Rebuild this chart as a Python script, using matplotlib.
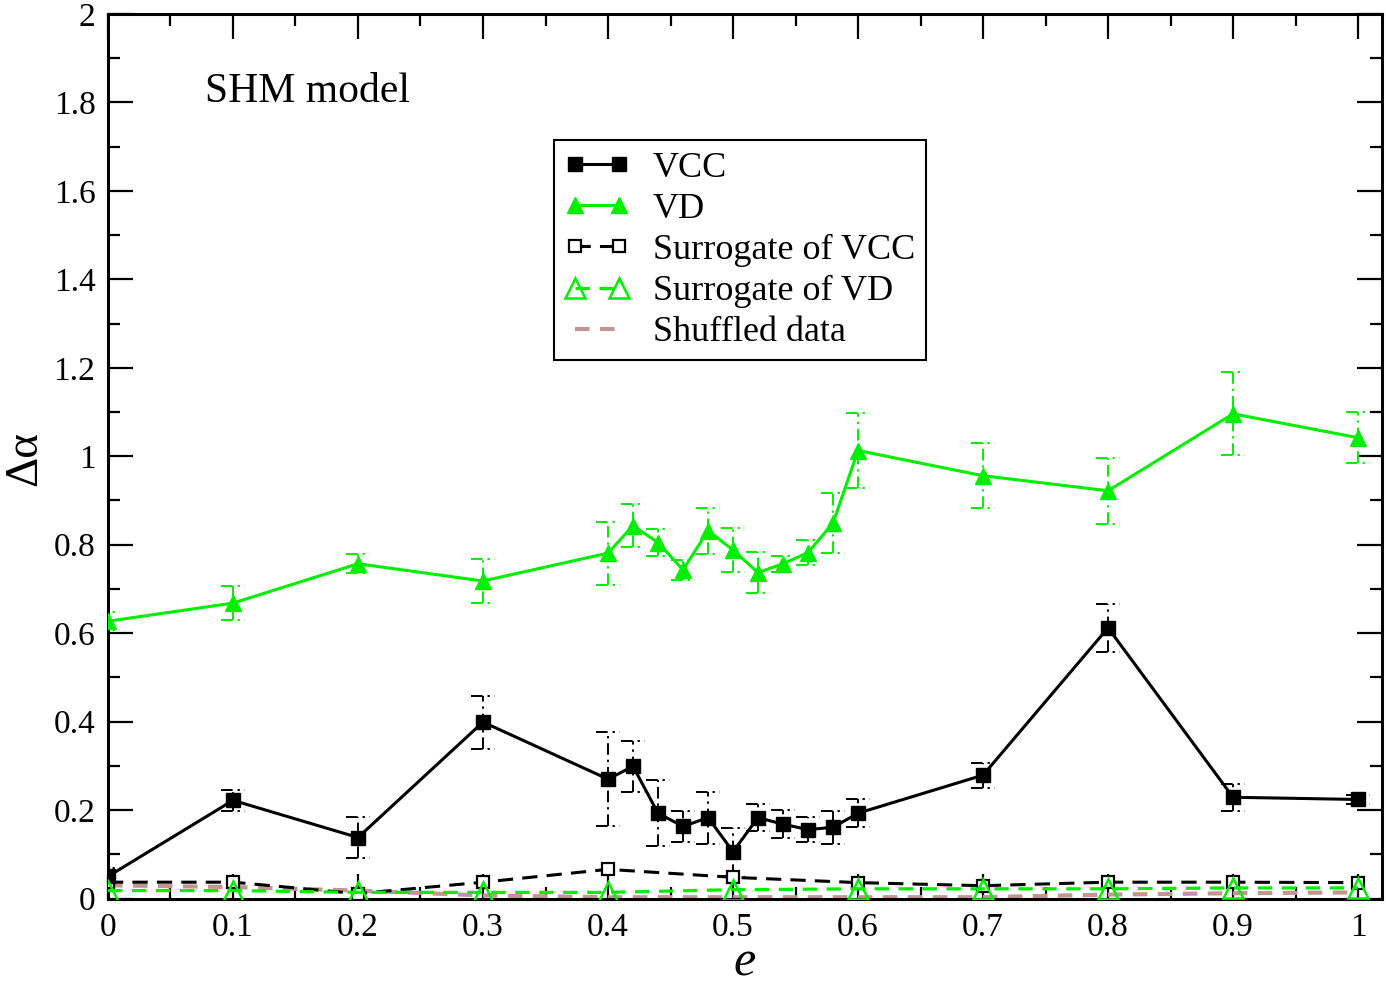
import numpy as np
import matplotlib
matplotlib.use("Agg")
from matplotlib import pyplot as plt
from matplotlib.ticker import MultipleLocator, FormatStrFormatter

# main series: e values, VCC and VD with their errors
e_main = [0.0, 0.1, 0.2, 0.3, 0.4, 0.42, 0.44, 0.46, 0.48, 0.5,
          0.52, 0.54, 0.56, 0.58, 0.6, 0.7, 0.8, 0.9, 1.0]
vcc = [0.050, 0.222, 0.138, 0.399, 0.270, 0.299, 0.193, 0.163, 0.183, 0.106,
       0.183, 0.168, 0.156, 0.161, 0.193, 0.279, 0.612, 0.229, 0.224]
vcc_err = [0.020, 0.023, 0.047, 0.060, 0.107, 0.057, 0.074, 0.035, 0.059, 0.054,
           0.031, 0.032, 0.028, 0.038, 0.032, 0.028, 0.054, 0.030, 0.010]
vd = [0.627, 0.668, 0.757, 0.718, 0.781, 0.843, 0.805, 0.743, 0.832, 0.788,
      0.737, 0.757, 0.782, 0.849, 1.013, 0.956, 0.922, 1.096, 1.042]
vd_err = [0.020, 0.039, 0.021, 0.050, 0.071, 0.049, 0.030, 0.023, 0.052, 0.049,
          0.046, 0.018, 0.028, 0.067, 0.085, 0.074, 0.075, 0.094, 0.057]

# surrogate and shuffled series
e_surr = [0.0, 0.1, 0.2, 0.3, 0.4, 0.5, 0.6, 0.7, 0.8, 0.9, 1.0]
surr_vcc = [0.037, 0.037, 0.011, 0.037, 0.066, 0.048, 0.036, 0.029, 0.037, 0.037, 0.036]
surr_vd = [0.018, 0.018, 0.014, 0.014, 0.014, 0.020, 0.022, 0.022, 0.022, 0.024, 0.024]
shuffled = [0.030, 0.026, 0.018, 0.007, 0.003, 0.003, 0.003, 0.003, 0.009, 0.012, 0.014]

GREEN = "#00ee00"
SHUF = "#c29595"

plt.rcParams["font.family"] = ["Liberation Serif", "DejaVu Serif"]

fig = plt.figure(figsize=(13.86, 9.86), dpi=100)
ax = fig.add_axes([0.0779, 0.0887, 0.9189, 0.8971])

eb_style = (0, (6, 2.5, 1.2, 2.5))
cap_w = 0.0095


def draw_errors(x, y, err, color):
    x = np.asarray(x)
    y = np.asarray(y)
    err = np.asarray(err)
    ax.vlines(x, y - err, y + err, colors=color, linewidth=1.4, linestyles=[eb_style], zorder=2)
    for sign in (-1, 1):
        ax.hlines(y + sign * err, x - cap_w, x + cap_w, colors=color, linewidth=1.4,
                  linestyles=[eb_style], zorder=2)


draw_errors(e_main, vcc, vcc_err, "black")
draw_errors(e_main, vd, vd_err, GREEN)

ax.plot(e_main, vcc, color="black", lw=2.2, marker="s", ms=10, label="VCC", zorder=4)
ax.plot(e_main, vd, color=GREEN, lw=2.2, marker="^", ms=11, label="VD", zorder=4)
ax.plot(e_surr, surr_vcc, color="black", lw=2.2, ls=(0, (5, 3)), marker="s", ms=9,
        mfc="white", mec="black", mew=1.6, label="Surrogate of VCC", zorder=3)
ax.plot(e_surr, surr_vd, color=GREEN, lw=2.3, ls=(0, (4.5, 3)), marker="^", ms=14,
        mfc="none", mec=GREEN, mew=1.8, label="Surrogate of VD", zorder=5)
ax.plot(e_surr, shuffled, color=SHUF, lw=3.0, ls=(0, (3.5, 2.5)), label="Shuffled data", zorder=2)

ax.set_xlim(0, 1.0188)
ax.set_ylim(0, 2)
ax.xaxis.set_major_locator(MultipleLocator(0.1))
ax.xaxis.set_minor_locator(MultipleLocator(0.05))
ax.yaxis.set_major_locator(MultipleLocator(0.2))
ax.yaxis.set_minor_locator(MultipleLocator(0.1))
ax.xaxis.set_major_formatter(FormatStrFormatter("%g"))
ax.yaxis.set_major_formatter(FormatStrFormatter("%g"))
ax.tick_params(which="both", direction="in", top=True, right=True, width=1.6, labelsize=24)
ax.tick_params(which="major", length=18)
ax.tick_params(which="minor", length=8.5)
ax.tick_params(axis="x", pad=10)
ax.tick_params(axis="y", pad=9)
for sp in ax.spines.values():
    sp.set_linewidth(2.2)

# axis labels placed by hand so they sit where the reference has them
fig.text(745 / 1386, 1 - 975 / 986, "e", fontsize=36, fontstyle="italic",
         ha="center", va="baseline")
fig.text(25 / 1386, 1 - 458 / 986, "Δα", fontsize=34, rotation=90,
         ha="center", va="center")

ax.text(0.078, 1.80, "SHM model", fontsize=30)

leg = ax.legend(loc="upper left", bbox_to_anchor=(0.350, 0.857), borderaxespad=0,
                fontsize=26, numpoints=2, handlelength=1.8, handletextpad=0.65,
                labelspacing=0.22, borderpad=0.3, fancybox=False, framealpha=1)
leg.get_frame().set_edgecolor("black")
leg.get_frame().set_linewidth(1.5)

fig.savefig("out.png", dpi=100)
